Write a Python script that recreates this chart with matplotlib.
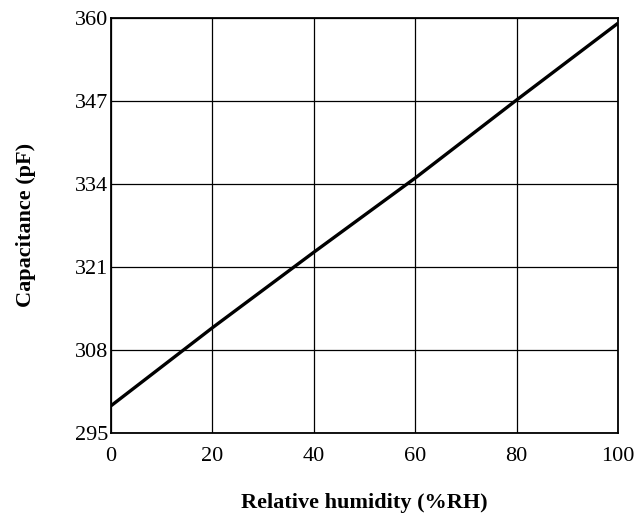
import matplotlib
matplotlib.use("Agg")
import matplotlib.pyplot as plt

# values
humidity = [0, 20, 40, 60, 80, 100]
capacitance = [299.3, 311.5, 323.3, 334.9, 347.1, 359.1]

x_ticks = [0, 20, 40, 60, 80, 100]
y_ticks = [295, 308, 321, 334, 347, 360]

plt.rcParams["font.family"] = ["Liberation Serif", "DejaVu Serif"]

fig = plt.figure(figsize=(6.43, 5.18), dpi=100)
ax = fig.add_axes([0.1726, 0.1635, 0.7884, 0.8027])

ax.plot(humidity, capacitance, color="black", linewidth=2.4, solid_capstyle="butt")

ax.set_xlim(0, 100)
ax.set_ylim(295, 360)
ax.set_xticks(x_ticks)
ax.set_yticks(y_ticks)
ax.grid(True, color="black", linewidth=0.9)
ax.set_axisbelow(True)

for s in ax.spines.values():
    s.set_linewidth(1.3)
    s.set_color("black")

ax.tick_params(axis="both", length=0, labelsize=16, colors="black")
ax.tick_params(axis="x", pad=10)
ax.tick_params(axis="y", pad=2)

ax.set_xlabel("Relative humidity (%RH)", fontsize=16, fontweight="bold", labelpad=19)
ax.set_ylabel("Capacitance (pF)", fontsize=16, fontweight="bold", labelpad=28)

fig.savefig("out.png", dpi=100)
plt.close(fig)
